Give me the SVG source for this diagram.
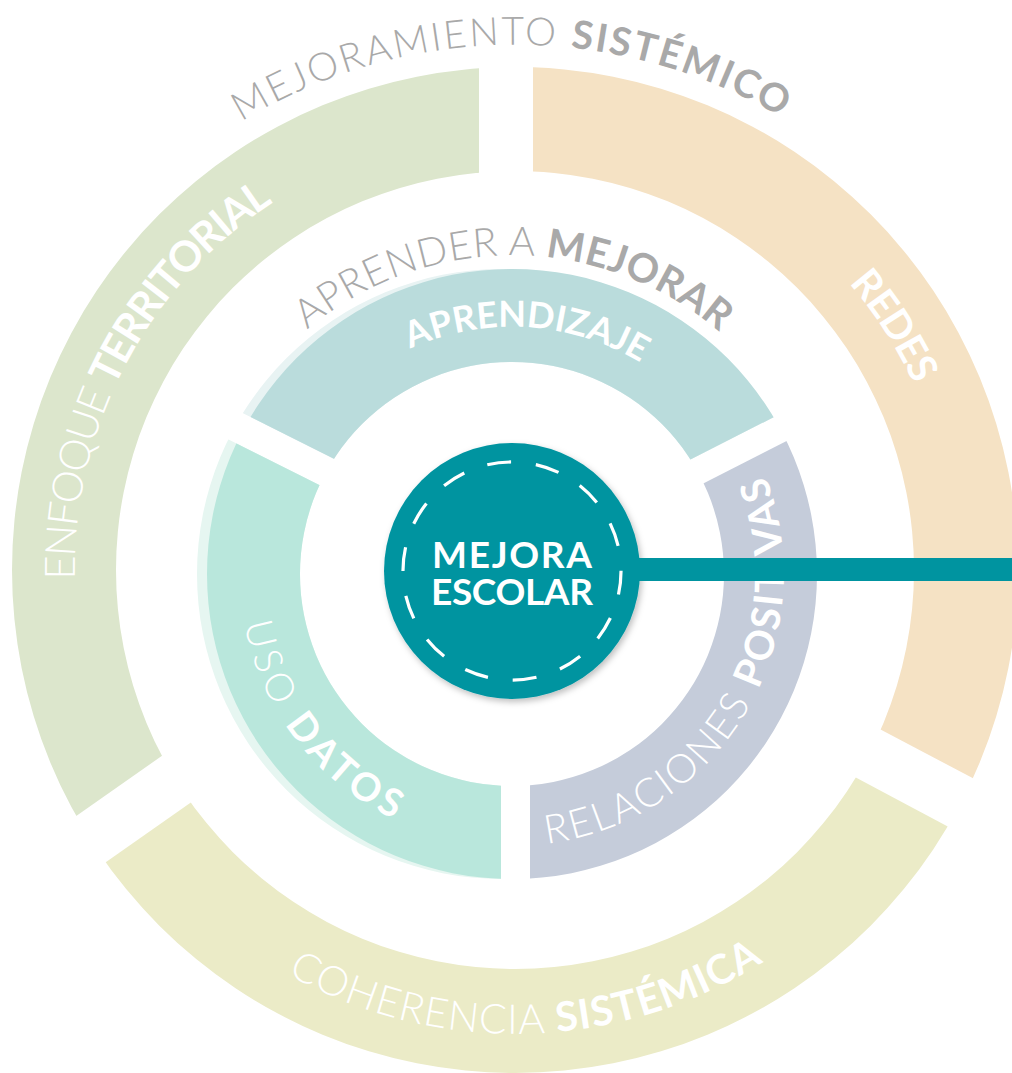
<svg xmlns="http://www.w3.org/2000/svg" width="1012" height="1073" viewBox="0 0 1012 1073">
<style>
text{font-family:Lato,"Open Sans","Liberation Sans",sans-serif}
.w{fill:#ffffff}
.g{fill:#a9a9a9}
.l{font-weight:300}
.b{font-weight:700}
.ring{fill-rule:evenodd}
</style>
<defs>
<clipPath id="cpG"><polygon points="479,533.1 479,-50 -50,-50 -50,904.7"/></clipPath>
<clipPath id="cpO"><polygon points="533,546.3 533,-50 1100,-50 1100,845.2"/></clipPath>
<clipPath id="cpC"><polygon points="-50,971.7 497.9,586.8 1100,907.6 1100,1200 -50,1200"/></clipPath>
<clipPath id="cpA"><polygon points="514.4,549.3 -13.2,284.9 -13.2,-100 1133.8,-100 1133.8,233.7"/></clipPath>
<clipPath id="cpD"><polygon points="501,576 -27.2,311.3 -27.2,1100 501,1100"/></clipPath>
<clipPath id="cpR"><polygon points="530,571.8 1147.8,257 1147.8,1100 530,1100"/></clipPath>
<path id="outerRing" d="M12,570 A503,503 0 1,0 1018,570 A503,503 0 1,0 12,570 Z M116,570 A399,399 0 1,0 914,570 A399,399 0 1,0 116,570 Z"/>
<path id="midRing" d="M207,574 A305,305 0 1,0 817,574 A305,305 0 1,0 207,574 Z M300,574 A212,212 0 1,0 724,574 A212,212 0 1,0 300,574 Z"/>
<path id="midShadow" d="M197,574 A305,305 0 1,0 807,574 A305,305 0 1,0 197,574 Z M300,574 A212,212 0 1,0 724,574 A212,212 0 1,0 300,574 Z"/>
<path id="pMS" d="M-8.4,528.8 A525,525 0 0,1 1037.6,519.7"/>
<path id="pAM" d="M194.4,544.5 A319,319 0 0,1 829.9,547.9"/>
<path id="pAZ" d="M268.1,534.9 A247,247 0 0,1 759,570.1"/>
<path id="pUD" d="M328.6,373.1 A272,272 0 0,0 657.7,803.7"/>
<path id="pRP" d="M393.8,819 A272,272 0 0,0 670.9,353.3"/>
<path id="pET" d="M277.3,940.3 A440,440 0 0,1 684.8,164.1"/>
<path id="pRD" d="M309.8,180.8 A440,440 0 0,1 784.7,917.7"/>
<path id="pCS" d="M53.7,619.7 A464,464 0 0,0 977.95,601.2"/>
<filter id="ds" x="-20%" y="-20%" width="140%" height="140%">
<feDropShadow dx="2" dy="3" stdDeviation="3" flood-color="#000" flood-opacity="0.25"/>
</filter>
</defs>

<g id="enfoque-territorial">
<use href="#outerRing" class="ring" fill="#dce6cc" clip-path="url(#cpG)"/>
<text class="w" font-size="42"><textPath href="#pET" startOffset="50%" text-anchor="middle" textLength="445"><tspan class="l">ENFOQUE </tspan><tspan class="b">TERRITORIAL</tspan></textPath></text>
</g>
<g id="redes">
<use href="#outerRing" class="ring" fill="#f5e2c4" clip-path="url(#cpO)"/>
<text class="w b" font-size="40"><textPath href="#pRD" startOffset="50%" text-anchor="middle" textLength="121">REDES</textPath></text>
</g>
<g id="coherencia-sistemica">
<use href="#outerRing" class="ring" fill="#ebebc7" clip-path="url(#cpC)"/>
<text class="w" font-size="41"><textPath href="#pCS" startOffset="50.2%" text-anchor="middle" textLength="500"><tspan class="l">COHERENCIA </tspan><tspan class="b">SISTÉMICA</tspan></textPath></text>
</g>
<g id="mejoramiento-sistemico">
<text class="g" font-size="39"><textPath href="#pMS" startOffset="50%" text-anchor="middle" textLength="567"><tspan class="l">MEJORAMIENTO </tspan><tspan class="b">SISTÉMICO</tspan></textPath></text>
</g>

<g id="aprendizaje">
<use href="#midShadow" class="ring" fill="#e8f3f3" clip-path="url(#cpA)"/>
<use href="#midRing" class="ring" fill="#badcdc" clip-path="url(#cpA)"/>
<text class="w b" font-size="36"><textPath href="#pAZ" startOffset="49.65%" text-anchor="middle" textLength="240">APRENDIZAJE</textPath></text>
</g>
<g id="uso-datos">
<use href="#midShadow" class="ring" fill="#e6f6f1" clip-path="url(#cpD)"/>
<use href="#midRing" class="ring" fill="#b9e7dc" clip-path="url(#cpD)"/>
<text class="w" font-size="39"><textPath href="#pUD" startOffset="50%" text-anchor="middle" textLength="256"><tspan class="l">USO </tspan><tspan class="b">DATOS</tspan></textPath></text>
</g>
<g id="relaciones-positivas">
<use href="#midRing" class="ring" fill="#c5ccda" clip-path="url(#cpR)"/>
<text class="w" font-size="40"><textPath href="#pRP" startOffset="50%" text-anchor="middle" textLength="493"><tspan class="l">RELACIONES </tspan><tspan class="b">POSITIVAS</tspan></textPath></text>
</g>
<g id="aprender-a-mejorar">
<text class="g" font-size="40"><textPath href="#pAM" startOffset="50%" text-anchor="middle" textLength="448"><tspan class="l">APRENDER A </tspan><tspan class="b">MEJORAR</tspan></textPath></text>
</g>

<g id="mejora-escolar">
<circle cx="512" cy="571" r="128" fill="#0094a0" filter="url(#ds)"/>
<path d="M487.3,464.8 A109,109 0 1,1 536.7,677.2 A109,109 0 1,1 487.3,464.8" fill="none" stroke="#fff" stroke-width="3.2" stroke-dasharray="24 24.92"/>
<text class="w b" x="512" y="568" font-size="37" text-anchor="middle" textLength="160">MEJORA</text>
<text class="w b" x="512" y="605" font-size="37" text-anchor="middle" textLength="162">ESCOLAR</text>
</g>

<g id="connectors">
<rect x="630" y="558" width="382" height="23" fill="#0094a0"/>
</g>
</svg>
